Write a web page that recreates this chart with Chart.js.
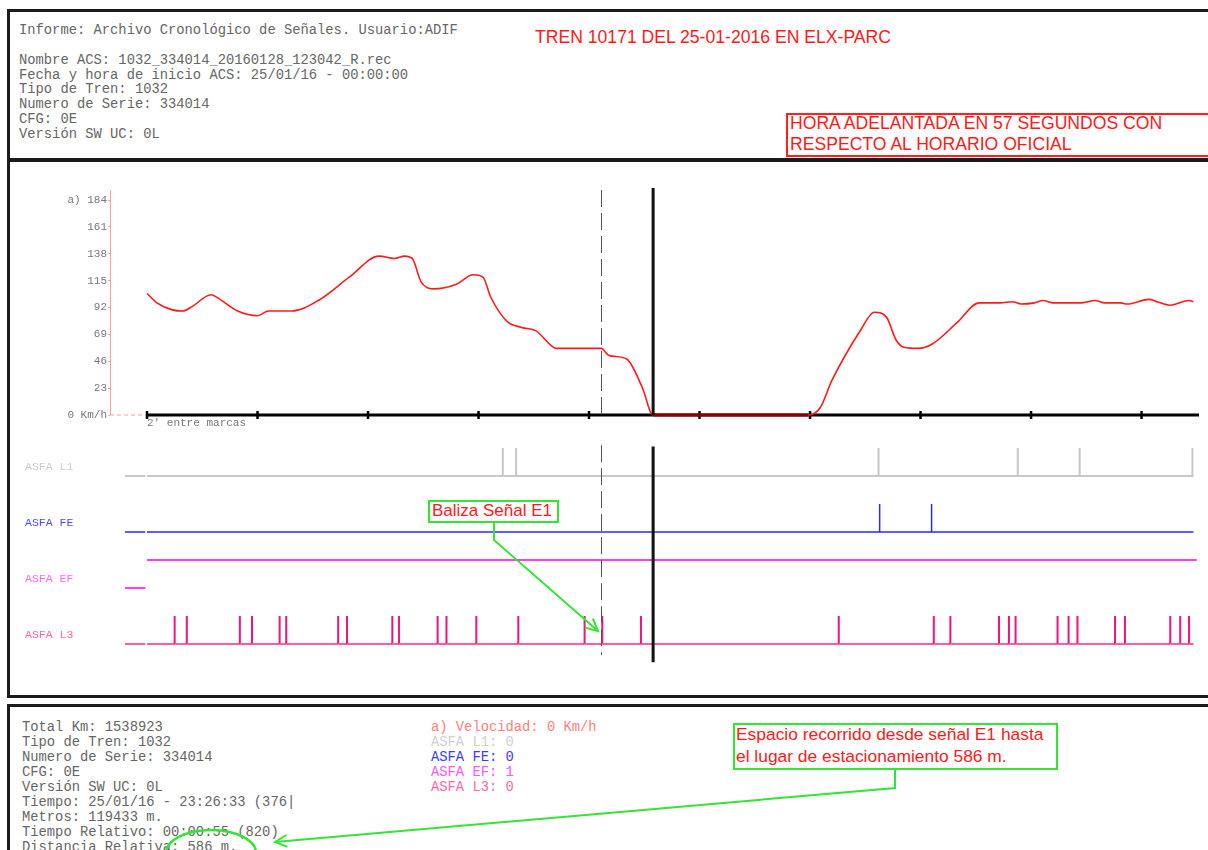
<!DOCTYPE html>
<html>
<head>
<meta charset="utf-8">
<script src="https://cdn.jsdelivr.net/npm/chart.js@4.4.1/dist/chart.umd.min.js"></script>
<style>
body { margin: 0; background: #fff; width: 1208px; height: 850px; overflow: hidden; position: relative; }
.box { position: absolute; border: 3px solid #1c1c1c; box-sizing: border-box; }
.mono { position: absolute; font-family: "Liberation Mono", "Courier New", monospace; font-size: 13.8px; line-height: 14.7px; color: #666; white-space: pre; }
.sans { position: absolute; font-family: "Liberation Sans", Arial, sans-serif; color: #ff1a1a; white-space: pre; }
#grafico { position: absolute; left: 0; top: 160px; }
svg { position: absolute; left: 0; top: 0; pointer-events: none; }
</style>
</head>
<body>

<div class="box" style="left:7px;top:9px;width:1220px;height:153px;"></div>
<div class="box" style="left:7px;top:158px;width:1220px;height:540px;"></div>
<div class="box" style="left:7px;top:704px;width:1220px;height:170px;"></div>

<!-- cabecera -->
<div class="mono" style="left:19px;top:24px;">Informe: Archivo Cronológico de Señales. Usuario:ADIF</div>
<div class="mono" style="left:19px;top:54px;">Nombre ACS: 1032_334014_20160128_123042_R.rec
Fecha y hora de inicio ACS: 25/01/16 - 00:00:00
Tipo de Tren: 1032
Numero de Serie: 334014
CFG: 0E
Versión SW UC: 0L</div>
<div class="sans" style="left:535px;top:27px;font-size:17.6px;">TREN 10171 DEL 25-01-2016 EN ELX-PARC</div>
<div style="position:absolute;left:786px;top:113px;width:440px;height:44px;border:2px solid #ff2020;box-sizing:border-box;"></div>
<div class="sans" style="left:790px;top:113px;font-size:17.6px;line-height:21px;">HORA ADELANTADA EN 57 SEGUNDOS CON
RESPECTO AL HORARIO OFICIAL</div>

<canvas id="grafico" width="1208" height="540"></canvas>

<!-- pie -->
<div class="mono" style="left:22px;top:720px;line-height:15px;">Total Km: 1538923
Tipo de Tren: 1032
Numero de Serie: 334014
CFG: 0E
Versión SW UC: 0L
Tiempo: 25/01/16 - 23:26:33 (376|
Metros: 119433 m.
Tiempo Relativo: 00:00:55 (820)
Distancia Relativa: 586 m.</div>
<div class="mono" style="left:431px;top:720px;line-height:15px;"><span style="color:#ff8080">a) Velocidad: 0 Km/h</span>
<span style="color:#cfcfcf">ASFA L1: 0</span>
<span style="color:#3b3bff">ASFA FE: 0</span>
<span style="color:#ff55ff">ASFA EF: 1</span>
<span style="color:#ff66aa">ASFA L3: 0</span></div>

<div style="position:absolute;left:428px;top:500px;width:131px;height:23px;border:2px solid #33e633;box-sizing:border-box;background:#fff;"></div>
<div class="sans" style="left:432px;top:500px;font-size:17px;line-height:21px;">Baliza Señal E1</div>
<div style="position:absolute;left:733px;top:723px;width:325px;height:47px;border:2px solid #33e633;box-sizing:border-box;background:#fff;"></div>
<div class="sans" style="left:736px;top:723px;font-size:17.4px;line-height:22px;">Espacio recorrido desde señal E1 hasta
el lugar de estacionamiento 586 m.</div>

<svg width="1208" height="850">
  <defs>
    <marker id="punta" markerWidth="16" markerHeight="16" refX="13" refY="8" orient="auto" markerUnits="userSpaceOnUse">
      <path d="M1,2 L13,8 L1,14" fill="none" stroke="#33e633" stroke-width="2"/>
    </marker>
  </defs>
  <polyline points="494,523 494,540 598,631" fill="none" stroke="#33e633" stroke-width="2" marker-end="url(#punta)"/>
  <polyline points="895,770 895,788 275,842" fill="none" stroke="#33e633" stroke-width="2" marker-end="url(#punta)"/>
  <ellipse cx="211" cy="853" rx="45" ry="23" fill="none" stroke="#33e633" stroke-width="2.5"/>
</svg>

<script>
// Velocidad (Km/h) frente al tiempo (10 unidades = 2" entre marcas)
const speedTime = [0, 0.9, 2.3, 3.2, 4.1, 5.8, 6.1, 8.2, 10.0, 11.0, 13.1, 15.5, 18.3, 21.0, 22.4, 23.3, 24.0, 24.8, 25.9, 28.0,
    29.5, 30.4, 31.1, 32.6, 33.9, 35.2, 37.1, 38.7, 41.1, 41.8, 43.4, 44.8, 45.8, 59.8, 60.9, 62.0, 64.6, 65.8, 66.9, 67.8,
    68.5, 69.8, 71.1, 73.3, 75.3, 77.2, 78.3, 79.1, 80.3, 81.1, 82.0, 84.5, 85.8, 86.7, 88.1, 88.7, 90.7, 91.4, 92.6, 94.3, 94.7];
const speedKmh = [104, 96, 90, 89, 93, 103, 102, 89, 85, 89, 89, 98, 118, 136, 134, 136, 134, 114, 108, 112,
    120, 118, 101, 80, 75, 72, 57, 57, 57, 51, 48, 24, 0, 0, 6, 30, 73, 88, 84, 64,
    58, 57, 61, 79, 96, 96, 97, 95, 96, 98, 96, 96, 98, 96, 96, 95, 99, 97, 94, 98, 97];
const speedTicks = [0, 23, 46, 69, 92, 115, 138, 161, 184];
const timeMarks = [0, 10, 20, 30, 40, 50, 60, 70, 80, 90];

// Impulsos ASFA (instantes)
const asfaL1Pulses = [32.2, 33.4, 66.2, 78.8, 84.4, 94.6];
const asfaFePulses = [66.3, 71.0];
const asfaL3Pulses = [2.5, 3.6, 8.4, 9.5, 12.0, 12.6, 17.3, 18.1, 22.2, 22.8, 26.3, 27.1, 29.8, 33.6, 39.6, 41.2, 44.7,
    62.6, 71.2, 72.7, 77.1, 78.0, 78.6, 82.4, 83.4, 84.2, 87.6, 88.5, 92.6, 93.5, 94.3];
const asfaEfState = [0, 1]; // antes / despues del inicio
const asfaNames = ['ASFA L1', 'ASFA FE', 'ASFA EF', 'ASFA L3'];

const markTime = 41.1;    // baliza señal E1
const cursorTime = 45.8;  // cursor
const startTime = -2, endTime = 94.7;

// niveles de cada canal en el eje ASFA
const levels = { 'ASFA L1': 6, 'ASFA FE': 4, 'ASFA EF': 2, 'ASFA L3': 0 };

const pulseTrace = (pulses, base) => {
    const pts = [{ x: startTime, y: base }, { x: -0.15, y: base }, { x: -0.08, y: null }, { x: 0, y: base }];
    pulses.forEach(t => {
        pts.push({ x: t, y: base }, { x: t, y: base + 1 }, { x: t, y: base });
    });
    pts.push({ x: endTime, y: base });
    return pts;
};

const efTrace = () => {
    const b = levels['ASFA EF'];
    return [{ x: startTime, y: b + asfaEfState[0] }, { x: -0.15, y: b + asfaEfState[0] }, { x: -0.08, y: null },
        { x: 0, y: b + asfaEfState[1] }, { x: 95.0, y: b + asfaEfState[1] }];
};

const labelColors = ['#cccccc', '#4a4aff', '#ff66ff', '#ff66aa'];
const mono = '"Liberation Mono", "Courier New", monospace';

const ejes = {
    id: 'ejes',
    beforeDatasetsDraw(chart) {
        const { ctx, chartArea } = chart;
        const x = chart.scales.x, yv = chart.scales.yv, ya = chart.scales.ya;
        const y0 = yv.getPixelForValue(0);
        ctx.save();
        // eje de velocidad
        ctx.strokeStyle = '#ff9f9f';
        ctx.lineWidth = 1;
        ctx.beginPath();
        ctx.moveTo(chartArea.left + 0.5, yv.getPixelForValue(yv.max));
        ctx.lineTo(chartArea.left + 0.5, y0);
        ctx.stroke();
        ctx.setLineDash([4, 3]);
        ctx.beginPath();
        ctx.moveTo(chartArea.left, y0);
        ctx.lineTo(x.getPixelForValue(0), y0);
        ctx.stroke();
        ctx.setLineDash([]);
        // eje de tiempo
        ctx.strokeStyle = '#000';
        ctx.lineWidth = 3;
        ctx.beginPath();
        ctx.moveTo(x.getPixelForValue(0), y0);
        ctx.lineTo(x.getPixelForValue(95.2), y0);
        ctx.stroke();
        ctx.lineWidth = 2.5;
        timeMarks.forEach(t => {
            const px = x.getPixelForValue(t);
            ctx.beginPath();
            ctx.moveTo(px, y0 - 4);
            ctx.lineTo(px, y0 + 4);
            ctx.stroke();
        });
        ctx.fillStyle = '#777';
        ctx.font = '11px ' + mono;
        ctx.textBaseline = 'top';
        ctx.fillText("2' entre marcas", x.getPixelForValue(0), y0 + 3);
        // nombres de canales ASFA
        ctx.font = '11.5px ' + mono;
        ctx.textBaseline = 'middle';
        asfaNames.forEach((n, i) => {
            ctx.fillStyle = labelColors[i];
            ctx.fillText(n, 25, ya.getPixelForValue(levels[n]) - 9);
        });
        ctx.restore();
    },
    afterDatasetsDraw(chart) {
        const { ctx } = chart;
        const x = chart.scales.x, yv = chart.scales.yv, ya = chart.scales.ya;
        const y0 = yv.getPixelForValue(0);
        const top = yv.getPixelForValue(yv.max);
        ctx.save();
        const xm = Math.round(x.getPixelForValue(markTime)) + 0.5;
        ctx.strokeStyle = '#555';
        ctx.lineWidth = 1;
        ctx.setLineDash([17, 6]);
        ctx.beginPath();
        ctx.moveTo(xm, top);
        ctx.lineTo(xm, y0);
        ctx.moveTo(xm, ya.getPixelForValue(7.1));
        ctx.lineTo(xm, ya.getPixelForValue(-0.4));
        ctx.stroke();
        ctx.setLineDash([]);
        const xc = x.getPixelForValue(cursorTime);
        ctx.strokeStyle = '#111';
        ctx.lineWidth = 3;
        ctx.beginPath();
        ctx.moveTo(xc, top - 2);
        ctx.lineTo(xc, y0);
        ctx.moveTo(xc, ya.getPixelForValue(7.05));
        ctx.lineTo(xc, ya.getPixelForValue(-0.65));
        ctx.stroke();
        ctx.restore();
    }
};

const vertical = (normal, strong) => ctx => (ctx.p0.parsed.x === ctx.p1.parsed.x ? strong : normal);

new Chart(document.getElementById('grafico'), {
    type: 'line',
    data: {
        datasets: [
            {
                label: 'a) Velocidad',
                data: speedTime.map((t, i) => ({ x: t, y: speedKmh[i] })),
                yAxisID: 'yv',
                borderColor: '#ff1a1a',
                borderWidth: 1.6,
                pointRadius: 0,
                cubicInterpolationMode: 'monotone',
                segment: {
                    borderColor: ctx => (ctx.p0.parsed.y === 0 && ctx.p1.parsed.y === 0 ? '#8b0000' : '#ff1a1a'),
                    borderWidth: ctx => (ctx.p0.parsed.y === 0 && ctx.p1.parsed.y === 0 ? 3 : 1.6)
                }
            },
            {
                label: 'ASFA L1',
                data: pulseTrace(asfaL1Pulses, levels['ASFA L1']),
                yAxisID: 'ya',
                borderColor: '#c8c8c8',
                borderWidth: 2,
                pointRadius: 0,
                tension: 0
            },
            {
                label: 'ASFA FE',
                data: pulseTrace(asfaFePulses, levels['ASFA FE']),
                yAxisID: 'ya',
                borderColor: '#2a2aff',
                borderWidth: 1.5,
                pointRadius: 0,
                tension: 0
            },
            {
                label: 'ASFA EF',
                data: efTrace(),
                yAxisID: 'ya',
                borderColor: '#ff3cff',
                borderWidth: 2,
                pointRadius: 0,
                tension: 0
            },
            {
                label: 'ASFA L3',
                data: pulseTrace(asfaL3Pulses, levels['ASFA L3']),
                yAxisID: 'ya',
                borderColor: '#ff5ca6',
                borderWidth: 2,
                pointRadius: 0,
                tension: 0,
                segment: { borderColor: vertical('#ff5ca6', '#f0147f') }
            }
        ]
    },
    options: {
        responsive: false,
        animation: false,
        spanGaps: false,
        layout: { padding: { left: 0, right: 9, top: 30, bottom: 40 } },
        plugins: { legend: { display: false }, tooltip: { enabled: false } },
        scales: {
            x: { type: 'linear', min: -3.35, max: 95.2, display: false },
            yv: {
                type: 'linear',
                position: 'left',
                min: -209.7,
                max: 192.6,
                afterBuildTicks: scale => { scale.ticks = speedTicks.map(v => ({ value: v })); },
                afterFit: scale => { scale.width = 110; },
                border: { display: false },
                grid: { drawOnChartArea: false, drawTicks: true, tickLength: 2, color: '#ff9f9f' },
                ticks: {
                    padding: 1,
                    color: '#777',
                    font: { family: mono, size: 11 },
                    callback: v => (v === 184 ? 'a) 184' : v === 0 ? '0 Km/h' : String(v))
                }
            },
            ya: { type: 'linear', min: -0.571, max: 16.21, display: false }
        }
    },
    plugins: [ejes]
});
</script>
</body>
</html>
